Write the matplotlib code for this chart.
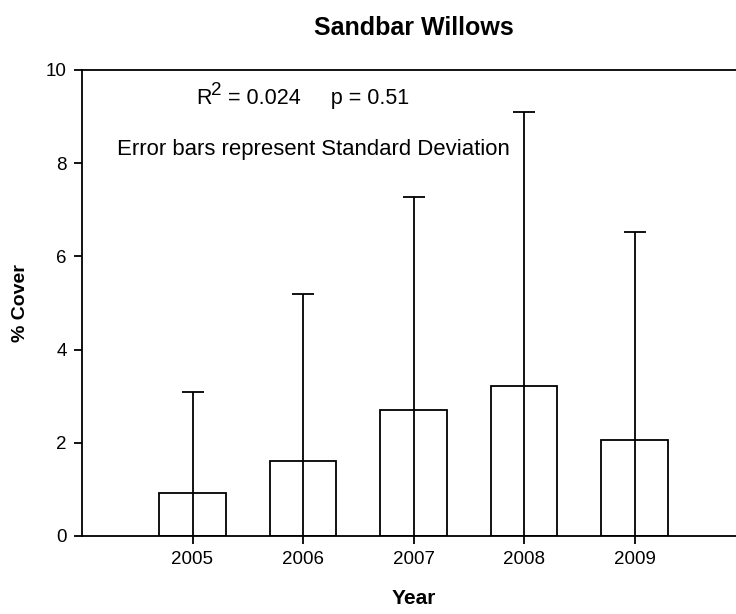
import matplotlib
matplotlib.use('Agg')
import matplotlib.pyplot as plt

# Sandbar willow cover by year, means and standard deviations
years = [2005, 2006, 2007, 2008, 2009]
mean_cover = [0.93, 1.62, 2.70, 3.22, 2.05]
sd_cover = [2.15, 3.58, 4.57, 5.88, 4.47]
y_ticks = [0, 2, 4, 6, 8, 10]

plt.rcParams['font.family'] = ['Liberation Sans', 'DejaVu Sans']

fig = plt.figure(figsize=(7.36, 6.14), dpi=100)
# axes run to 2010, a bit past the right edge of the figure
ax = fig.add_axes([82 / 736, 78 / 614, 663 / 736, 466 / 614])

ax.bar(years, mean_cover, width=0.6, color='white', edgecolor='black',
       linewidth=1.3, zorder=2)
ax.errorbar(years, mean_cover, yerr=[sd_cover, sd_cover], fmt='none',
            ecolor='black', elinewidth=1.3, capsize=8, capthick=1.3, zorder=3)

ax.set_xlim(2004, 2010)
ax.set_ylim(0, 10)
ax.set_xticks(years)
ax.set_xticklabels([str(y) for y in years])
ax.set_yticks(y_ticks)
ax.tick_params(direction='out', length=6, width=1.3, labelsize=13.5, pad=5)

for side in ['left', 'bottom', 'top']:
    ax.spines[side].set_linewidth(1.3)
ax.spines['right'].set_visible(False)

ax.set_title('Sandbar Willows', fontsize=18, fontweight='bold', pad=25)
ax.set_xlabel('Year', fontsize=15, fontweight='bold', labelpad=15)
ax.set_ylabel('% Cover', fontsize=14, fontweight='bold', labelpad=12)

# R squared with a full-size superscript, then the p value
r_txt = ax.text(2005.03, 9.27, 'R', fontsize=15.5, ha='left', va='baseline')
sup = ax.annotate('2', xy=(1.0, 0.5), xycoords=r_txt, fontsize=13.5,
                  ha='left', va='bottom')
ax.annotate(' = 0.024     p = 0.51', xy=(1.0, 0.0), xycoords=(sup, r_txt),
            fontsize=15.5, ha='left', va='bottom')

ax.text(2004.32, 8.3, 'Error bars represent Standard Deviation',
        fontsize=15.9, ha='left', va='center')

fig.savefig('out.png', dpi=100)
